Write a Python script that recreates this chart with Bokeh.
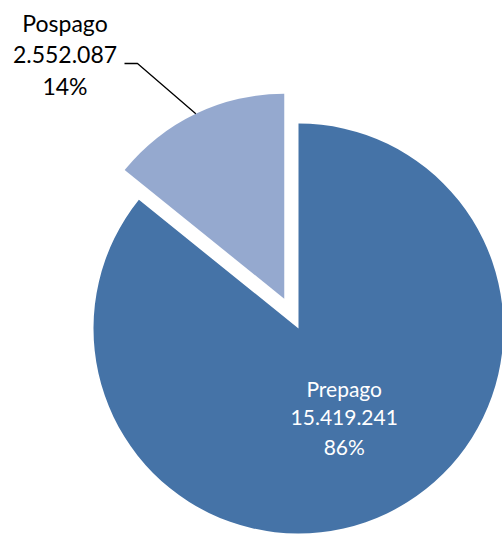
import math
from bokeh.plotting import figure
from bokeh.models import Range1d
from bokeh.core.properties import value
from bokeh.embed import file_html
from bokeh.resources import INLINE

# ---- data ----
categories = ["Prepago", "Pospago"]
values = [15419241, 2552087]
colors = ["#4573A7", "#95A9CF"]

total = sum(values)
fracs = [v / total for v in values]

def fmt(v):
    return f"{v:,}".replace(",", ".")

# ---- layout (pixel-like data units, origin at pie centre) ----
R = 205
EXPLODE = 33
W, H = 502, 534

p = figure(width=W, height=H, output_backend="svg", toolbar_location=None,
           x_range=Range1d(-298, 204), y_range=Range1d(-206, 328),
           min_border=0, background_fill_color="white", border_fill_color="white")
p.axis.visible = False
p.grid.visible = False
p.outline_line_color = None

# Prepago starts at 12 o'clock, going clockwise; Pospago fills the rest (exploded)
start = math.pi / 2
angles = []
a = start
for f in fracs:
    a_end = a - f * 2 * math.pi
    angles.append((a, a_end))
    a = a_end

# Prepago
s0, e0 = angles[0]
p.wedge(x=0, y=0, radius=R, start_angle=s0, end_angle=e0, direction="clock",
        fill_color=colors[0], line_color=None)

# Pospago exploded along its mid angle
s1, e1 = angles[1]
mid1 = (s1 + e1) / 2
cx1, cy1 = EXPLODE * math.cos(mid1), EXPLODE * math.sin(mid1)
p.wedge(x=cx1, y=cy1, radius=R, start_angle=s1, end_angle=e1, direction="clock",
        fill_color=colors[1], line_color=None)

font = value("Lato")

# Prepago label (inside)
mid0 = (s0 + e0) / 2
lx0 = 106 * math.cos(mid0)
ly0 = 106 * math.sin(mid0) + 28 + 8
lines0 = [categories[0], fmt(values[0]), f"{round(fracs[0]*100)}%"]
p.text(x=[lx0] * 3, y=[ly0 - 29 * i for i in range(3)], text=lines0,
       text_font=font, text_font_size="21px", text_color="white",
       text_align="center", text_baseline="alphabetic")

# Pospago label (outside, with leader line)
lx1, ly1 = -233.5, 296 + 10
lines1 = [categories[1], fmt(values[1]), f"{round(fracs[1]*100)}%"]
p.text(x=[lx1] * 3, y=[ly1 - 31.5 * i for i in range(3)], text=lines1,
       text_font=font, text_font_size="23px", text_color="black",
       text_align="center", text_baseline="alphabetic")

# leader line from label to arc midpoint of Pospago
ex = cx1 + R * math.cos(mid1)
ey = cy1 + R * math.sin(mid1)
p.line(x=[-174, -161, ex], y=[265, 265, ey], line_color="black", line_width=1.3)

open("out.html", "w").write(file_html(p, INLINE))
